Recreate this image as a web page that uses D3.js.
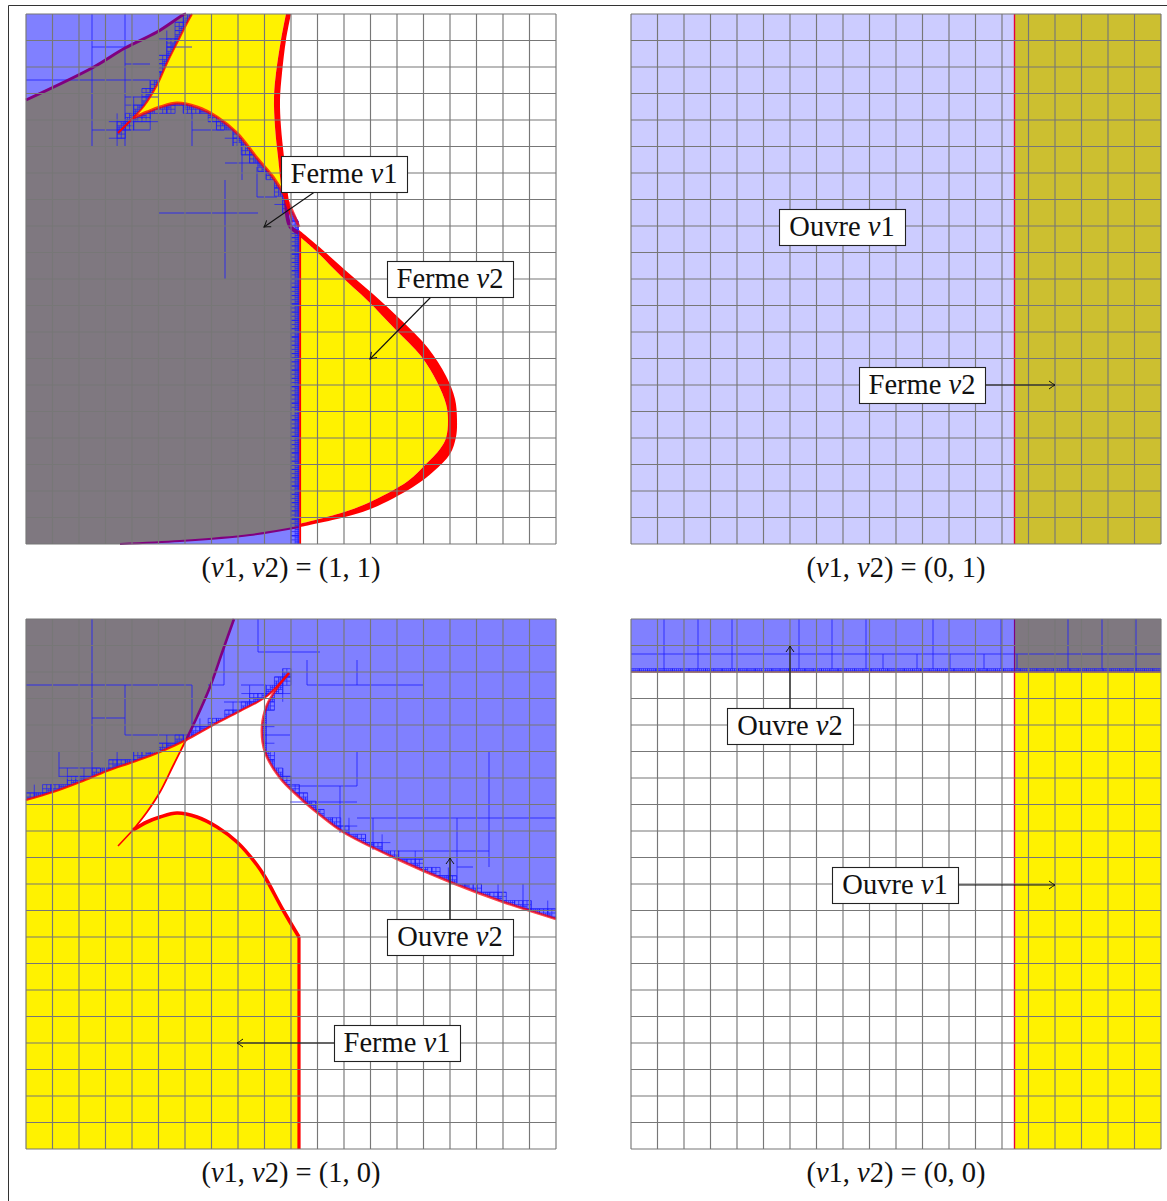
<!DOCTYPE html>
<html><head><meta charset="utf-8">
<style>html,body{margin:0;padding:0;background:#fff}svg{display:block}text{font-family:"Liberation Serif",serif;fill:#111}</style>
<script src="https://cdnjs.cloudflare.com/ajax/libs/d3/7.8.5/d3.min.js"></script>
</head><body><script>
// All curve values are in panel units (0..530, y measured down from the top of a panel)
const gridTicks = d3.range(0, 21);

// --- panel (1,1)
const aPurpleTop = [[0,86],[66,54],[99,34],[131,18],[157,1],[160,0]];
const aLeftCurve = [[166,0],[160,11],[154,23],[141,49],[131,71],[118,92],[107,104]];
const aTip = [[107,104],[92,119]];
const aArch = [[107,104],[121,98],[134,93],[151,89],[171,93],[191,103],[211,119],[231,144],[247,163],[261,186],[273,213]];
const aBottom = [[94,530],[154,527],[224,521],[273,513]];
const aRightOuterTop = [[265,0],[260,26],[256,59],[254,86],[255,113],[258,143],[262,181],[267,211]];
const aRightInnerTop = [[260,0],[255,26],[250,59],[248,83],[249,113],[252,143],[256,176],[260,191]];
const aNoseOuter = [[273,216],[291,231],[319,256],[347,280],[375,306],[402,334],[420,362],[429,385],[431,406],[430,423],[424,440],[408,457],[387,473],[347,494],[319,503],[274,513]];
const aNoseInner = [[273,222],[289,236],[315,262],[342,287],[369,315],[395,342],[411,368],[420,390],[422,406],[420,424],[414,435],[400,450],[382,467],[342,489],[315,499],[273,510]];
const aSmallBlue = [[258,183],[273,208],[273,218],[262,212]];
const aPurpleNotch = [[260,186],[264,212],[273,219]];
const aVerticalEdge = [[273,218],[273,530]];
const aBoxLines = [[66,0,66,132],[99,0,99,132],[66,33,99,33],[0,66,124,66],[99,50,124,50],[66,116,124,116],[166,99,166,132],[166,116,198,116],[199,149,234,149],[216,129,216,166],[133,199,232,199],[199,166,199,265],[231,153,231,183],[231,183,251,183],[141,33,166,33],[99,83,133,83]];

// --- panel (1,0)
const cPurple = [[208,0],[197,31],[184,68],[171,98],[160,121]];
const cUpper = [[0,181],[27,173],[54,163],[81,152],[107,143],[134,133],[160,121],[187,106],[214,92],[241,77],[263,54]];
const cLower = [[263,54],[251,69],[241,86],[236,108],[239,133],[254,159],[274,179],[294,196],[317,213],[371,240],[424,263],[477,283],[530,300]];
const cThin = [[160,121],[147,147],[134,173],[121,193],[107,211]];
const cTip = [[107,211],[92,227]];
const cArch = [[107,211],[121,203],[134,198],[151,194],[171,198],[191,208],[211,223],[231,246],[239,258],[257,291],[273,318]];
const cVertical = [[273,318],[273,530]];
const cBoxLines = [[66,0,66,157],[0,66,166,66],[99,66,99,116],[66,99,99,99],[166,66,166,116],[99,116,160,116],[33,149,74,149],[33,133,33,158],[198,28,198,66],[182,66,198,66],[232,0,232,33],[232,33,294,33],[215,66,240,66],[198,83,225,83],[281,41,281,66],[331,41,331,66],[281,66,397,66],[331,133,331,167],[264,167,331,167],[239,116,264,116],[314,167,314,214],[264,183,331,183],[331,199,530,199],[431,199,431,264],[463,133,463,248],[371,232,463,232],[347,199,347,231],[497,265,497,288],[431,248,447,248]];

// --- panels with a straight frontier
const frontierX = 383.5;
const frontierY = 53;
const dEdge = [[0,53],[530,53]];
const dBoxX = [33,67,101,168,201,235,302,370,437,471,505];
const dBoxXlow = [252,286,319,353,386];
const dBoxYmid = 35;

// --- labels
const captions = ["1, 1", "0, 1", "1, 0", "0, 0"];
const colors = {blue:"#8080ff", yellow:"#fff200", gray:"#7f7880", lightBlue:"#ccccff", olive:"#ccbf30", red:"#ff0000", purple:"#800080", ink:"#1c1cff"};

const svg = d3.select("body").append("svg").attr("width",1167).attr("height",1201);
svg.append("defs").append("marker").attr("id","tip").attr("viewBox","-7 -5 8 10").attr("markerWidth",8).attr("markerHeight",10)
  .attr("markerUnits","userSpaceOnUse").attr("refX",0).attr("refY",0).attr("orient","auto")
  .append("path").attr("d","M-6,-4 Q-2,-1 0,0 Q-2,1 -6,4").attr("fill","none").attr("stroke","#111").attr("stroke-width",1);
svg.append("path").attr("d","M1167,5.5H8.5V1201").attr("fill","none").attr("stroke","#333").attr("stroke-width",1);

const corners = pts => pts.map(p => [p]);
const rect = corners([[0,0],[530,0],[530,530],[0,530]]);
function hits(pts,x0,y0,x1,y1){
  for(let i=1;i<pts.length;i++){
    let [ax,ay]=pts[i-1],[bx,by]=pts[i],t0=0,t1=1,ok=true;
    const dx=bx-ax,dy=by-ay;
    for(const [p,q] of [[-dx,ax-x0],[dx,x1-ax],[-dy,ay-y0],[dy,y1-ay]]){
      if(p===0){ if(q<0) ok=false; }
      else { const r=q/p; if(p<0) t0=Math.max(t0,r); else t1=Math.min(t1,r); }
    }
    if(ok&&t0<=t1) return true;
  }
  return false;
}

function panel(idx,ox,oy,draw){
  const x=d3.scaleLinear().domain([0,530]).range([ox,ox+530]);
  const y=d3.scaleLinear().domain([0,530]).range([oy,oy+530]);
  const g=svg.append("g");
  const smooth=d3.line().x(d=>x(d[0])).y(d=>y(d[1])).curve(d3.curveCatmullRom.alpha(.5));
  // a closed outline made of smooth pieces joined at sharp corners
  const outline=pieces=>pieces.map((p,i)=>{
    if(p.length===1) return (i?"L":"M")+x(p[0][0])+","+y(p[0][1]);
    const s=smooth(p); return i?"L"+s.slice(1):s;
  }).join("")+"Z";
  const ctx={x,y,g,
    poly(pieces,fill){ return g.append("path").attr("d",outline(pieces)).attr("fill",fill); },
    stroke(pts,col,w,op){ return g.append("path").attr("d",smooth(pts)).attr("fill","none").attr("stroke",col).attr("stroke-width",w).attr("stroke-opacity",op==null?1:op).attr("stroke-linejoin","round"); },
    segments(list){ g.append("path").attr("d",list.map(s=>`M${x(s[0])},${y(s[1])}L${x(s[2])},${y(s[3])}`).join("")).attr("fill","none").attr("stroke",colors.ink).attr("stroke-width",0.8); },
    pave(curves,regions){
      const id="clip"+idx;
      g.append("clipPath").attr("id",id).selectAll("path").data(regions).join("path").attr("d",d=>outline(d));
      const segs=[];
      const rec=(bx,by,s)=>{
        if(!curves.some(c=>hits(c,bx,by,bx+s,by+s))) return;
        segs.push([bx+s/2,by,bx+s/2,by+s],[bx,by+s/2,bx+s,by+s/2]);
        if(s>5&&s<9) segs.push([bx,by,bx+s,by],[bx,by+s,bx+s,by+s],[bx,by,bx,by+s],[bx+s,by,bx+s,by+s]);
        if(s>4.2){ for(const a of [0,s/2]) for(const b of [0,s/2]) rec(bx+a,by+b,s/2); }
      };
      const tile=530/32;
      for(let i=0;i<32;i++) for(let j=0;j<32;j++) rec(i*tile,j*tile,tile);
      g.append("path").attr("clip-path",`url(#${id})`)
       .attr("d",segs.map(s=>`M${x(s[0])},${y(s[1])}L${x(s[2])},${y(s[3])}`).join(""))
       .attr("fill","none").attr("stroke",colors.ink).attr("stroke-width",0.7);
    }
  };
  draw(ctx);
  // grid
  const gx=d3.scaleLinear().domain([0,20]).range([0,530]);
  g.append("g").selectAll("line").data(gridTicks).join("line")
    .attr("x1",d=>x(gx(d))).attr("x2",d=>x(gx(d))).attr("y1",y(0)).attr("y2",y(530))
    .attr("stroke","#777").attr("stroke-width",1.15);
  g.append("g").selectAll("line").data(gridTicks).join("line")
    .attr("y1",d=>y(gx(d))).attr("y2",d=>y(gx(d))).attr("x1",x(0)).attr("x2",x(530))
    .attr("stroke","#777").attr("stroke-width",1.15);
  // caption
  const t=g.append("text").attr("x",x(265)).attr("y",y(563)).attr("text-anchor","middle").style("font-size","28.5px");
  [["(",0],["v",1],["1, ",0],["v",1],["2) = (",0],[captions[idx]+")",0]].forEach(p=>{
    t.append("tspan").text(p[0]).style("font-style",p[1]?"italic":"normal");
  });
  return ctx;
}

function note(c,rx,ry,word,num,from,to){
  const w=126,h=36,{x,y,g}=c;
  if(from) g.append("line").attr("x1",x(from[0])).attr("y1",y(from[1])).attr("x2",x(to[0])).attr("y2",y(to[1]))
    .attr("stroke","#111").attr("stroke-width",1.1).attr("marker-end","url(#tip)");
  g.append("rect").attr("x",x(rx)+.5).attr("y",y(ry)+.5).attr("width",w).attr("height",h).attr("fill","#fff").attr("stroke","#222").attr("stroke-width",1.1);
  const t=g.append("text").attr("x",x(rx)+w/2).attr("y",y(ry)+27).attr("text-anchor","middle").style("font-size","28.5px");
  t.append("tspan").text(word+" ");
  t.append("tspan").text("v").style("font-style","italic");
  t.append("tspan").text(num);
}

// (1,1)
const A=panel(0,26,14,c=>{
  c.poly(rect,"#fff");
  c.poly([aPurpleTop,[[0,0]]],colors.blue);
  c.poly([aBottom,[[273,530]]],colors.blue);
  c.poly([aPurpleTop,aLeftCurve,aArch,[[273,513]],aBottom.slice().reverse(),[[0,530]]],colors.gray);
  c.poly([aLeftCurve,aArch.slice(0,9),[[258,180]],aRightInnerTop.slice(0,7).reverse()],colors.yellow);
  c.poly([aNoseInner],colors.yellow);
  c.poly(corners(aSmallBlue),colors.blue);
  c.pave([aLeftCurve,aTip,aArch,aVerticalEdge],[[aPurpleTop,aLeftCurve,aArch,[[273,530]],[[0,530]]],corners(aSmallBlue)]);
  c.segments(aBoxLines);
  c.stroke(aPurpleTop,colors.purple,3);
  c.stroke(aBottom,colors.purple,2);
  c.stroke(aPurpleNotch,colors.purple,4);
  c.poly([aRightOuterTop,aRightInnerTop.slice().reverse()],colors.red);
  c.poly([aNoseOuter,aNoseInner.slice().reverse()],colors.red);
  c.stroke(aLeftCurve,colors.red,2,.8);
  c.stroke(aTip,colors.red,2);
  c.stroke(aArch,colors.red,3,.72);
  c.stroke(aVerticalEdge,colors.ink,1.2);
  c.stroke(aVerticalEdge.map(p=>[p[0]+1.2,p[1]]),colors.red,1.8);
});
note(A,255,142,"Ferme","1",[290,177],[238,213]);
note(A,361,247,"Ferme","2",[405,283],[344,345]);

// (0,1)
const B=panel(1,631,14,c=>{
  c.poly(corners([[0,0],[frontierX,0],[frontierX,530],[0,530]]),colors.lightBlue);
  c.poly(corners([[frontierX,0],[530,0],[530,530],[frontierX,530]]),colors.olive);
  c.stroke([[frontierX,0],[frontierX,530]],"#e8003c",1.4);
});
note(B,148,195,"Ouvre","1");
note(B,228,353,"Ferme","2",[354,371],[424,371]);

// (1,0)
const cGrayOutline=[[[0,0]],cPurple,cUpper.slice(0,7).reverse()];
const cBlueOutline=[cPurple,cUpper.slice(6),cLower,[[530,0]]];
const C=panel(2,26,619,c=>{
  c.poly(rect,"#fff");
  c.poly(cGrayOutline,colors.gray);
  c.poly(cBlueOutline,colors.blue);
  c.poly([cUpper.slice(0,7),cThin,cArch,[[273,530]],[[0,530]]],colors.yellow);
  c.pave([cUpper,cLower],[cGrayOutline,cBlueOutline]);
  c.segments(cBoxLines);
  c.stroke(cPurple,colors.purple,2.6);
  c.stroke(cUpper,colors.red,2.2,.85);
  c.stroke(cLower,colors.red,2.6,.72);
  c.stroke(cThin,colors.red,1.8);
  c.stroke(cTip,colors.red,1.6);
  c.stroke(cArch,colors.red,3.6);
  c.stroke(cVertical,colors.red,3.2);
});
note(C,361,300,"Ouvre","2",[424,300],[424,239]);
note(C,308,406,"Ferme","1",[308,424],[211,424]);

// (0,0)
const D=panel(3,631,619,c=>{
  c.poly(rect,"#fff");
  c.poly(corners([[0,0],[frontierX,0],[frontierX,frontierY],[0,frontierY]]),colors.blue);
  c.poly(corners([[frontierX,0],[530,0],[530,frontierY],[frontierX,frontierY]]),colors.gray);
  c.poly(corners([[frontierX,frontierY],[530,frontierY],[530,530],[frontierX,530]]),colors.yellow);
  c.pave([dEdge],[corners([[0,0],[530,0],[530,frontierY],[0,frontierY]])]);
  c.segments([[0,dBoxYmid,530,dBoxYmid],...dBoxX.map(v=>[v,0,v,50]),...dBoxXlow.map(v=>[v,dBoxYmid,v,50])]);
  c.stroke(dEdge,"#b0505a",1.6);
  c.stroke([[frontierX,0],[frontierX,frontierY]],colors.purple,1.2);
  c.stroke([[frontierX,frontierY],[frontierX,530]],"#e8003c",1.4);
});
note(D,96,89,"Ouvre","2",[159,89],[159,27]);
note(D,201,248,"Ouvre","1",[327,266],[424,266]);
</script></body></html>
